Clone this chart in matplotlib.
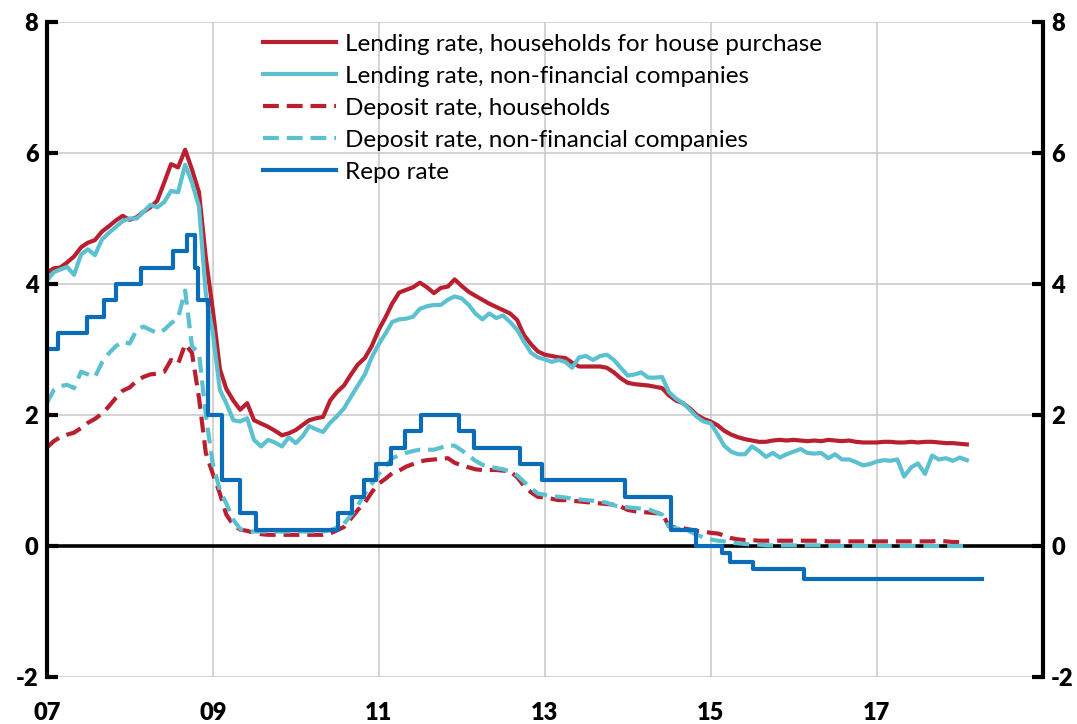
"""Lending, deposit and repo rates 2007-2018"""

import matplotlib
matplotlib.use("Agg")
import matplotlib.pyplot as plt
import matplotlib.dates as mdates
import pandas as pd

# Monthly series, Jan 2007 - Feb 2018 (per cent)
hh_lending = [
    4.17, 4.24, 4.25, 4.33, 4.42, 4.56, 4.63, 4.67, 4.80, 4.88, 4.97, 5.04,
    4.98, 5.02, 5.10, 5.17, 5.27, 5.55, 5.83, 5.78, 6.05, 5.75, 5.40, 4.40,
    3.60, 2.70, 2.40, 2.22, 2.08, 2.18, 1.92, 1.87, 1.82, 1.76, 1.69, 1.72,
    1.77, 1.85, 1.92, 1.95, 1.97, 2.22, 2.35, 2.45, 2.62, 2.77, 2.87, 3.05,
    3.30, 3.50, 3.70, 3.87, 3.91, 3.95, 4.02, 3.95, 3.86, 3.94, 3.96, 4.07,
    3.97, 3.88, 3.82, 3.76, 3.70, 3.65, 3.60, 3.55, 3.45, 3.22, 3.08, 2.97,
    2.92, 2.90, 2.88, 2.87, 2.80, 2.74, 2.74, 2.74, 2.74, 2.72, 2.65, 2.56,
    2.49, 2.47, 2.46, 2.45, 2.43, 2.41, 2.30, 2.22, 2.18, 2.10, 2.00, 1.94,
    1.90, 1.84, 1.76, 1.70, 1.66, 1.63, 1.61, 1.59, 1.59, 1.61, 1.62, 1.61,
    1.62, 1.61, 1.60, 1.61, 1.60, 1.62, 1.61, 1.60, 1.61, 1.59, 1.58, 1.58,
    1.58, 1.59, 1.59, 1.58, 1.58, 1.59, 1.58, 1.59, 1.59, 1.58, 1.57, 1.57,
    1.56, 1.55,
]
nfc_lending = [
    4.05, 4.18, 4.22, 4.26, 4.14, 4.45, 4.53, 4.44, 4.68, 4.78, 4.87, 4.96,
    5.00, 5.00, 5.10, 5.21, 5.17, 5.25, 5.42, 5.40, 5.82, 5.55, 5.18, 3.85,
    3.25, 2.38, 2.18, 1.92, 1.90, 1.95, 1.62, 1.52, 1.62, 1.58, 1.52, 1.66,
    1.57, 1.68, 1.83, 1.78, 1.74, 1.88, 1.98, 2.10, 2.28, 2.45, 2.62, 2.88,
    3.08, 3.25, 3.42, 3.46, 3.47, 3.50, 3.62, 3.66, 3.68, 3.68, 3.76, 3.81,
    3.78, 3.68, 3.55, 3.46, 3.55, 3.48, 3.52, 3.42, 3.30, 3.12, 2.95, 2.88,
    2.85, 2.81, 2.84, 2.81, 2.72, 2.88, 2.90, 2.84, 2.90, 2.92, 2.84, 2.72,
    2.60, 2.62, 2.65, 2.57, 2.57, 2.58, 2.35, 2.25, 2.18, 2.08, 1.97, 1.90,
    1.87, 1.70, 1.53, 1.44, 1.40, 1.40, 1.52, 1.45, 1.36, 1.42, 1.35, 1.40,
    1.44, 1.48, 1.42, 1.41, 1.42, 1.34, 1.40, 1.32, 1.32, 1.28, 1.23, 1.25,
    1.29, 1.31, 1.30, 1.32, 1.06, 1.20, 1.26, 1.10, 1.38, 1.32, 1.34, 1.30,
    1.35, 1.31,
]
hh_deposit = [
    1.50, 1.60, 1.66, 1.70, 1.73, 1.80, 1.88, 1.94, 2.02, 2.13, 2.26, 2.37,
    2.42, 2.52, 2.58, 2.62, 2.63, 2.66, 2.84, 2.78, 3.08, 2.95, 2.26, 1.42,
    1.10, 0.80, 0.48, 0.32, 0.25, 0.23, 0.20, 0.18, 0.17, 0.17, 0.17, 0.17,
    0.17, 0.17, 0.17, 0.17, 0.17, 0.19, 0.24, 0.29, 0.42, 0.55, 0.66, 0.82,
    0.95, 1.03, 1.11, 1.15, 1.21, 1.25, 1.29, 1.31, 1.32, 1.33, 1.34, 1.27,
    1.23, 1.20, 1.17, 1.16, 1.16, 1.16, 1.15, 1.14, 1.05, 0.92, 0.82, 0.75,
    0.74, 0.72, 0.70, 0.70, 0.69, 0.68, 0.67, 0.66, 0.65, 0.64, 0.63, 0.60,
    0.55, 0.53, 0.52, 0.51, 0.50, 0.50, 0.30, 0.28, 0.27, 0.25, 0.23, 0.22,
    0.20, 0.19, 0.16, 0.12, 0.10, 0.09, 0.09, 0.08, 0.08, 0.08, 0.08, 0.08,
    0.08, 0.08, 0.08, 0.08, 0.08, 0.07, 0.07, 0.07, 0.07, 0.07, 0.07, 0.07,
    0.07, 0.07, 0.07, 0.07, 0.07, 0.07, 0.07, 0.07, 0.07, 0.08, 0.07, 0.06,
    0.06, 0.05,
]
nfc_deposit = [
    2.18, 2.38, 2.44, 2.46, 2.41, 2.66, 2.62, 2.58, 2.80, 2.94, 3.05, 3.12,
    3.09, 3.30, 3.35, 3.30, 3.25, 3.30, 3.40, 3.48, 3.90, 3.05, 2.94, 2.00,
    1.25, 0.85, 0.65, 0.40, 0.26, 0.22, 0.22, 0.22, 0.22, 0.22, 0.22, 0.22,
    0.22, 0.22, 0.22, 0.22, 0.22, 0.24, 0.28, 0.34, 0.47, 0.62, 0.80, 0.95,
    1.10, 1.22, 1.34, 1.38, 1.42, 1.45, 1.47, 1.47, 1.47, 1.50, 1.54, 1.53,
    1.46, 1.38, 1.30, 1.24, 1.21, 1.19, 1.17, 1.14, 1.08, 0.98, 0.88, 0.80,
    0.78, 0.76, 0.75, 0.74, 0.72, 0.71, 0.70, 0.69, 0.68, 0.66, 0.62, 0.60,
    0.59, 0.58, 0.57, 0.56, 0.52, 0.48, 0.30, 0.27, 0.25, 0.22, 0.17, 0.13,
    0.10, 0.08, 0.07, 0.05, 0.04, 0.03, 0.02, 0.02, 0.01, 0.01, 0.01, 0.01,
    0.01, 0.01, 0.01, 0.01, 0.01, 0.00, 0.00, 0.00, 0.00, 0.00, 0.00, 0.00,
    0.00, 0.00, 0.00, 0.00, 0.00, 0.00, 0.00, 0.00, 0.00, 0.00, 0.00, 0.00,
    0.00, 0.00,
]

# Repo rate decisions (date the new rate applies from)
repo_dates = [
    "2007-01-01", "2007-02-21", "2007-06-27", "2007-09-12", "2007-10-31",
    "2008-02-20", "2008-07-09", "2008-09-10", "2008-10-15", "2008-10-29",
    "2008-12-10", "2009-02-11", "2009-04-29", "2009-07-08", "2010-07-07",
    "2010-09-07", "2010-10-27", "2010-12-21", "2011-02-22", "2011-04-27",
    "2011-07-06", "2011-12-21", "2012-02-22", "2012-09-12", "2012-12-19",
    "2013-12-18", "2014-07-09", "2014-10-29", "2015-02-18", "2015-03-25",
    "2015-07-08", "2016-02-17", "2018-04-09",
]
repo_rates = [
    3.00, 3.25, 3.50, 3.75, 4.00,
    4.25, 4.50, 4.75, 4.25, 3.75,
    2.00, 1.00, 0.50, 0.25, 0.50,
    0.75, 1.00, 1.25, 1.50, 1.75,
    2.00, 1.75, 1.50, 1.25, 1.00,
    0.75, 0.25, 0.00, -0.10, -0.25,
    -0.35, -0.50, -0.50,
]

x_tick_years = [2007, 2009, 2011, 2013, 2015, 2017]
y_ticks = [-2, 0, 2, 4, 6, 8]

labels = [
    "Lending rate, households for house purchase",
    "Lending rate, non-financial companies",
    "Deposit rate, households",
    "Deposit rate, non-financial companies",
    "Repo rate",
]

RED = "#B91F2E"
CYAN = "#5BC0CF"
BLUE = "#0B6CB8"


def main():
    plt.rcParams["font.family"] = ["Lato", "DejaVu Sans"]
    plt.rcParams["axes.unicode_minus"] = False

    months = pd.date_range("2007-01-01", periods=len(hh_lending), freq="MS")
    repo_x = pd.to_datetime(repo_dates)

    fig = plt.figure(figsize=(10.77, 7.24), dpi=100)
    ax = fig.add_axes([0.0434, 0.065, 0.9248, 0.9046])

    lw = 3.0
    ax.plot(months, hh_lending, color=RED, lw=lw, label=labels[0])
    ax.plot(months, nfc_lending, color=CYAN, lw=lw, label=labels[1])
    ax.plot(months, hh_deposit, color=RED, lw=lw, dashes=(3.8, 1.9), label=labels[2])
    ax.plot(months, nfc_deposit, color=CYAN, lw=lw, dashes=(3.8, 1.9), label=labels[3])
    ax.plot(repo_x, repo_rates, color=BLUE, lw=lw, drawstyle="steps-post", label=labels[4])

    ax.axhline(0, color="black", lw=2.6, zorder=1.5)

    ax.set_xlim(pd.Timestamp("2007-01-01"), pd.Timestamp("2019-01-01"))
    ax.set_ylim(-2, 8)
    ax.set_yticks(y_ticks)
    ax.set_xticks([pd.Timestamp(f"{y}-01-01") for y in x_tick_years])
    ax.xaxis.set_major_formatter(mdates.DateFormatter("%y"))

    ax.grid(True, color="#C8C8C8", lw=1.1)
    ax.set_axisbelow(True)

    for side in ["top", "bottom"]:
        ax.spines[side].set_visible(False)
    for side in ["left", "right"]:
        ax.spines[side].set_linewidth(3)
        ax.spines[side].set_color("black")

    ax.yaxis.set_tick_params(direction="in", length=8, width=3,
                             left=True, right=True, labelleft=True, labelright=True,
                             labelsize=17, pad=6)
    ax.xaxis.set_tick_params(length=0, labelsize=17, pad=18)
    for lab in ax.get_xticklabels() + ax.get_yticklabels():
        lab.set_fontweight("heavy")
    for t in ax.yaxis.get_major_ticks():
        t.label2.set_fontweight("heavy")

    ax.legend(loc="upper left", bbox_to_anchor=(0.207, 0.997), frameon=False,
              fontsize=17.5, handlelength=3.0, handletextpad=0.4,
              labelspacing=0.45, borderaxespad=0)

    fig.savefig("out.png", dpi=100)


if __name__ == "__main__":
    main()
